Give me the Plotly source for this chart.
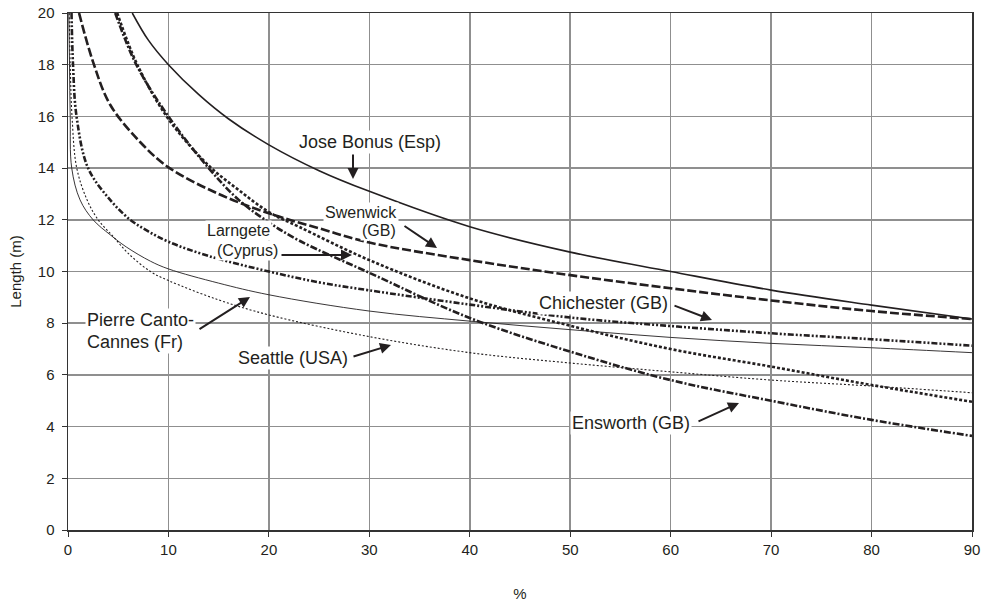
import plotly.graph_objects as go

# ---- data ----
jose_x = [6.4, 8, 10, 13, 16, 20, 25, 30, 40, 50, 60, 70, 80, 90]
jose_y = [20.0, 18.95, 18.0, 16.85, 15.9, 14.9, 13.9, 13.1, 11.73, 10.75, 10.0, 9.28, 8.70, 8.16]

swen_x = [1.1, 2.5, 4.2, 7.2, 10, 15, 20, 25, 30, 40, 50, 60, 70, 80, 90]
swen_y = [20.0, 18.1, 16.45, 15.0, 14.03, 13.0, 12.25, 11.67, 11.12, 10.44, 9.86, 9.35, 8.88, 8.47, 8.16]

chich_x = [0.35, 0.5, 0.85, 2.0, 4.2, 6.2, 8, 10, 14, 20, 25, 30, 40, 50, 60, 70, 80, 90]
chich_y = [20.0, 18.0, 16.0, 14.0, 12.77, 12.0, 11.55, 11.15, 10.6, 10.0, 9.58, 9.27, 8.72, 8.22, 7.89, 7.61, 7.38, 7.13]

pierre_x = [0.08, 0.15, 0.22, 0.37, 1.2, 2.5, 4.2, 5.8, 8.2, 10, 15, 20, 30, 40, 50, 60, 70, 80, 90]
pierre_y = [20.0, 18.0, 16.0, 14.0, 12.77, 12.0, 11.42, 10.95, 10.4, 10.1, 9.55, 9.1, 8.47, 8.08, 7.75, 7.45, 7.22, 7.05, 6.86]

seattle_x = [0.12, 0.22, 0.4, 0.87, 1.9, 3.0, 4.5, 6, 8.2, 10, 15, 20, 30, 40, 50, 60, 70, 80, 90]
seattle_y = [20.0, 18.0, 16.0, 14.0, 12.77, 12.0, 11.35, 10.7, 10.0, 9.65, 8.9, 8.32, 7.48, 6.86, 6.46, 6.12, 5.80, 5.57, 5.31]

larn_x = [4.9, 6.9, 10, 14, 17, 20, 23, 30, 40, 50, 60, 70, 80, 90]
larn_y = [20.0, 18.0, 15.9, 14.1, 13.15, 12.3, 11.73, 10.44, 8.96, 7.9, 7.0, 6.32, 5.61, 4.96]

ens_x = [4.7, 6.8, 10, 14, 17, 20, 23, 30, 40, 50, 60, 70, 80, 90]
ens_y = [20.0, 18.0, 16.0, 14.0, 12.77, 11.9, 11.2, 9.95, 8.2, 6.9, 5.8, 5.0, 4.26, 3.64]

x_ticks = [0, 10, 20, 30, 40, 50, 60, 70, 80, 90]
y_ticks = [0, 2, 4, 6, 8, 10, 12, 14, 16, 18, 20]

INK = "#231f20"
FONT = "Liberation Sans, Arial, sans-serif"

series = [
    ("Jose Bonus (Esp)", jose_x, jose_y, dict(width=1.6, dash="solid")),
    ("Swenwick (GB)", swen_x, swen_y, dict(width=2.6, dash="9px,3px")),
    ("Chichester (GB)", chich_x, chich_y, dict(width=2.6, dash="6px,2px,2px,2px,2px,2px")),
    ("Pierre Canto-Cannes (Fr)", pierre_x, pierre_y, dict(width=0.9, dash="solid")),
    ("Seattle (USA)", seattle_x, seattle_y, dict(width=1.1, dash="2px,2px")),
    ("Larngete (Cyprus)", larn_x, larn_y, dict(width=2.6, dash="3px,2px")),
    ("Ensworth (GB)", ens_x, ens_y, dict(width=2.6, dash="7px,2px,2px,2px")),
]

fig = go.Figure()
for name, xs, ys, ln in series:
    fig.add_trace(go.Scatter(x=xs, y=ys, mode="lines", name=name,
                             line=dict(color=INK, shape="spline", smoothing=1.0, **ln),
                             showlegend=False, hoverinfo="skip"))

# target plot box in page pixels
W, H = 992, 603
L, R, T, B = 68, 972, 13, 530

def dx(px):
    return (px - L) / (R - L) * 90
def dy(py):
    return (B - py) / (B - T) * 20

labels = [
    ("Jose Bonus (Esp)", 370, 142, "center", 18),
    ("Swenwick", 399, 212, "right", 16),
    ("(GB)", 398, 230, "right", 16),
    ("Larngete", 238, 230, "center", 16),
    ("(Cyprus)", 247, 250, "center", 16),
    ("Pierre Canto-", 85, 320, "left", 18),
    ("Cannes (Fr)", 85, 342, "left", 18),
    ("Seattle (USA)", 293, 358, "center", 18),
    ("Chichester (GB)", 603, 303, "center", 18),
    ("Ensworth (GB)", 631, 423, "center", 18),
]
arrows = [
    ((353, 153), (353, 179)),
    ((403, 225), (437, 248)),
    ((280, 255), (352, 255)),
    ((198, 330), (250, 297)),
    ((352, 357), (391, 345)),
    ((673, 305), (712, 320)),
    ((697, 422), (739, 403)),
]

annotations = []
for text, px, py, anchor, size in labels:
    annotations.append(dict(x=dx(px), y=dy(py), xref="x", yref="y", text=text,
                            showarrow=False, xanchor=anchor, yanchor="middle",
                            bgcolor="white", borderpad=1,
                            font=dict(family=FONT, size=size, color=INK)))
for (tx, ty), (hx, hy) in arrows:
    annotations.append(dict(x=dx(hx), y=dy(hy), ax=dx(tx), ay=dy(ty),
                            xref="x", yref="y", axref="x", ayref="y", text="",
                            showarrow=True, arrowhead=2, arrowsize=1.1,
                            arrowwidth=2, arrowcolor=INK, standoff=0, startstandoff=0))

fig.update_layout(
    width=W, height=H,
    margin=dict(l=L, r=W - R, t=T, b=H - B, autoexpand=False),
    paper_bgcolor="white", plot_bgcolor="white",
    font=dict(family=FONT, size=15, color=INK),
    annotations=annotations,
    xaxis=dict(range=[0, 90], tickvals=x_ticks, showgrid=True, gridcolor="#8f8f8f",
               gridwidth=1.5, showline=True, mirror=True, linecolor="#333", linewidth=1.5,
               ticks="outside", ticklen=5, tickcolor="#333", zeroline=False,
               tickfont=dict(size=15, color=INK), automargin=False,
               title=dict(text="%", standoff=32, font=dict(size=15, color=INK))),
    yaxis=dict(range=[0, 20], tickvals=y_ticks, showgrid=True, gridcolor="#8f8f8f",
               gridwidth=1.5, showline=True, mirror=True, linecolor="#333", linewidth=1.5,
               ticks="outside", ticklen=5, tickcolor="#333", zeroline=False,
               tickfont=dict(size=15, color=INK), automargin=False, ticklabelstandoff=4,
               ticklabeloverflow="allow",
               title=dict(text="Length (m)", standoff=12, font=dict(size=15, color=INK))),
)

fig.write_html("out.html", config={"displayModeBar": False, "staticPlot": True},
               post_script="document.body.style.margin='0px';document.body.style.overflow='hidden';")
